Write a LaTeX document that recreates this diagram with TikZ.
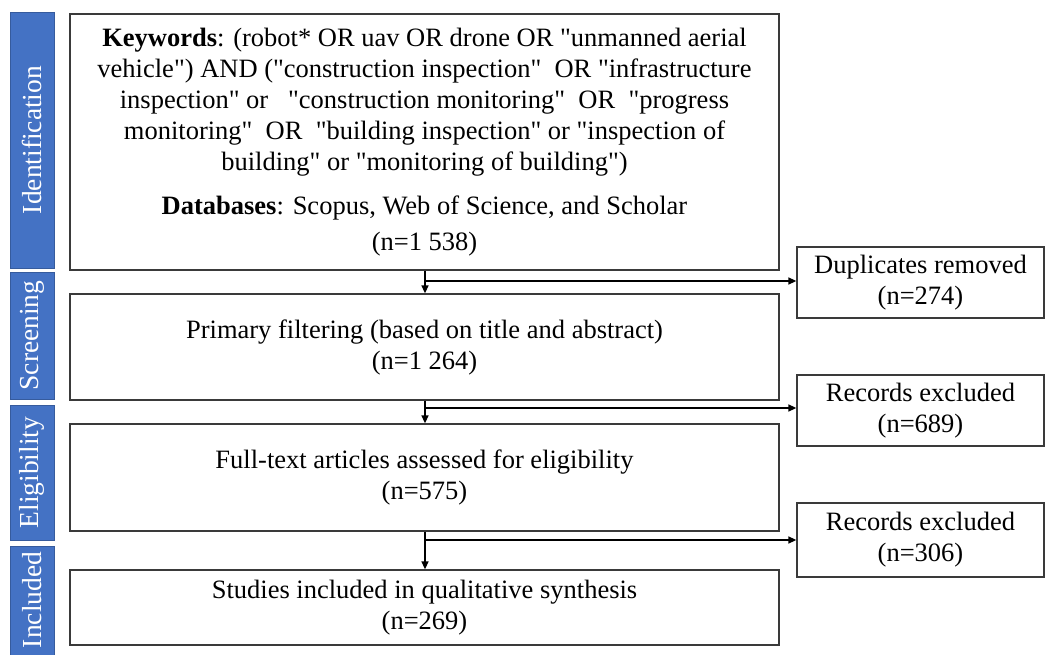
\documentclass[tikz,border=0pt]{standalone}
\usepackage{fontspec}
\setmainfont{Liberation Serif}
\usetikzlibrary{arrows.meta}
\definecolor{sideblue}{HTML}{4472C4}
\definecolor{boxline}{HTML}{3A3A3A}
\newcommand\qq{\textquotedbl}
\tikzset{
  side/.style={fill=sideblue, draw=sideblue!80!black, line width=0.6pt},
  sidetext/.style={text=white, rotate=90, font=\fontsize{27.5}{30}\selectfont},
  mainbox/.style={draw=boxline, line width=1.3pt, align=center, inner sep=0pt,
    font=\fontsize{26.5}{31}\selectfont},
  arr/.style={line width=1.5pt, -{Triangle[length=8pt,width=7pt]}},
  ln/.style={line width=1.5pt}
}
\begin{document}
\begin{tikzpicture}[x=1pt,y=-1pt]
\useasboundingbox (0,0) rectangle (1046,655);
% side bars
\fill[side] (10,12) rectangle (54,268);
\node[sidetext] (sid) at (32,140) {Identification};
\fill[side] (10,272) rectangle (54,399);
\node[sidetext] (sscr) at (32,335.5) {Screening};
\fill[side] (10,405) rectangle (54,540);
\node[sidetext] (selig) at (32,472.5) {Eligibility};
\fill[side] (10,546) rectangle (54,660);
\node[sidetext] (sinc) at (32,600) {Included};
% main boxes
\node[mainbox, minimum width=709pt, minimum height=256pt] (b1) at (424.5,142) {%
\textbf{Keywords}: (robot* OR uav OR drone OR \qq unmanned aerial\\
vehicle\qq) AND (\qq construction inspection\qq\ \ OR \qq infrastructure\\
inspection\qq{} or\ \ \ \qq construction monitoring\qq\ \ OR\ \ \qq progress\\
monitoring\qq\ \ OR\ \ \qq building inspection\qq{} or \qq inspection of\\
building\qq{} or \qq monitoring of building\qq)\\[13pt]
\textbf{Databases}: Scopus, Web of Science, and Scholar\\[5pt]
(n=1 538)};
\node[mainbox, minimum width=709pt, minimum height=106pt] (b2) at (424.5,347) {%
Primary filtering (based on title and abstract)\\(n=1 264)};
\node[mainbox, minimum width=709pt, minimum height=107pt] (b3) at (424.5,477.5) {%
Full-text articles assessed for eligibility\\(n=575)};
\node[mainbox, minimum width=709pt, minimum height=75pt] (b4) at (424.5,607.5) {%
Studies included in qualitative synthesis\\(n=269)};
% right boxes
\node[mainbox, minimum width=247pt, minimum height=71pt] (r1) at (920.5,282.5) {%
Duplicates removed\\(n=274)};
\node[mainbox, minimum width=247pt, minimum height=71pt] (r2) at (920.5,410.5) {%
Records excluded\\(n=689)};
\node[mainbox, minimum width=247pt, minimum height=74pt] (r3) at (920.5,540) {%
Records excluded\\(n=306)};
% connectors
\coordinate (j1) at (425,281);
\coordinate (j2) at (425,408);
\coordinate (j3) at (425,540);
\draw[arr] (b1.south -| j1) -- (b2.north -| j1);
\draw[arr] (j1) -- (j1 -| r1.west);
\draw[arr] (b2.south -| j2) -- (b3.north -| j2);
\draw[arr] (j2) -- (j2 -| r2.west);
\draw[arr] (b3.south -| j3) -- (b4.north -| j3);
\draw[arr] (j3) -- (j3 -| r3.west);
\end{tikzpicture}
\end{document}
